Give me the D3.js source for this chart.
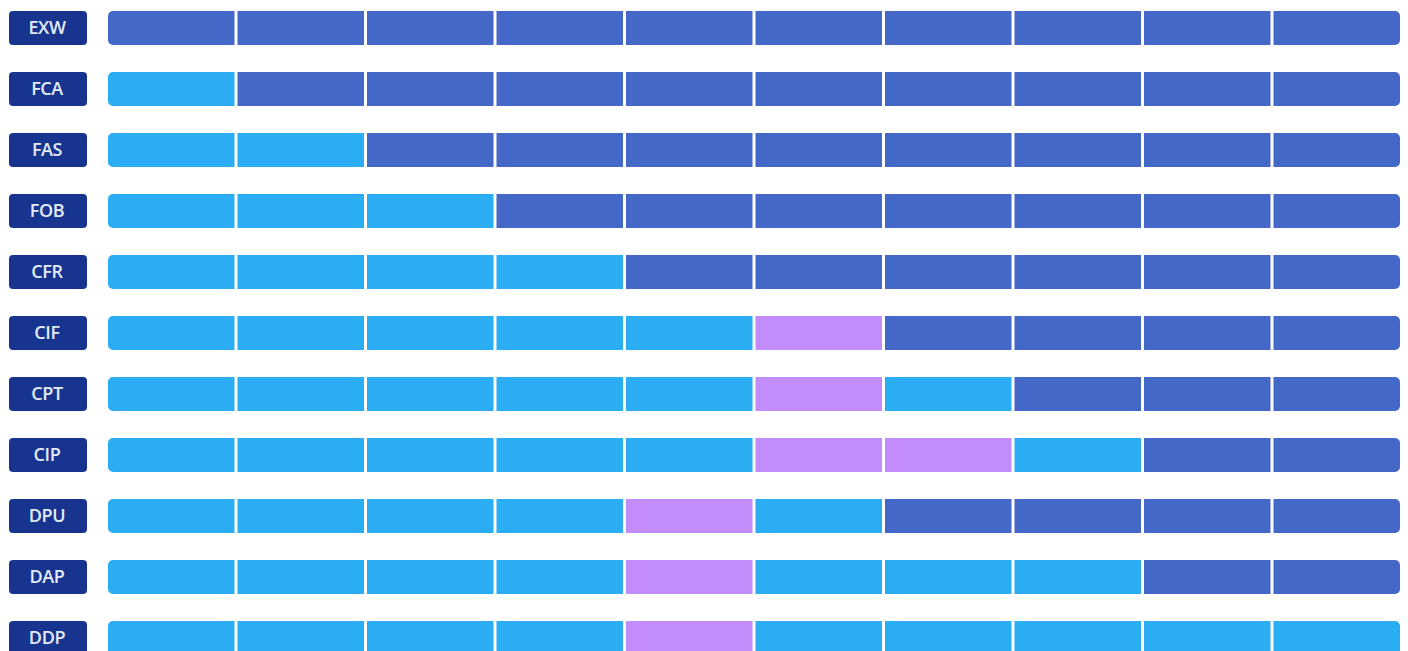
<!DOCTYPE html>
<html>
<head>
<meta charset="utf-8">
<script src="https://cdn.jsdelivr.net/npm/d3@7"></script>
<style>
	body { margin: 0; background: #ffffff; overflow: hidden; }
	svg { display: block; }
</style>
</head>
<body>
<script>
/*
Incoterms responsibility grid: one row per term, one cell per step.
S = seller pays, B = buyer pays, I = insurance step
*/

var terms = ['EXW', 'FCA', 'FAS', 'FOB', 'CFR', 'CIF', 'CPT', 'CIP', 'DPU', 'DAP', 'DDP'];
var steps = [1, 2, 3, 4, 5, 6, 7, 8, 9, 10];

var rowEXW = ['B', 'B', 'B', 'B', 'B', 'B', 'B', 'B', 'B', 'B'];
var rowFCA = ['S', 'B', 'B', 'B', 'B', 'B', 'B', 'B', 'B', 'B'];
var rowFAS = ['S', 'S', 'B', 'B', 'B', 'B', 'B', 'B', 'B', 'B'];
var rowFOB = ['S', 'S', 'S', 'B', 'B', 'B', 'B', 'B', 'B', 'B'];
var rowCFR = ['S', 'S', 'S', 'S', 'B', 'B', 'B', 'B', 'B', 'B'];
var rowCIF = ['S', 'S', 'S', 'S', 'S', 'I', 'B', 'B', 'B', 'B'];
var rowCPT = ['S', 'S', 'S', 'S', 'S', 'I', 'S', 'B', 'B', 'B'];
var rowCIP = ['S', 'S', 'S', 'S', 'S', 'I', 'I', 'S', 'B', 'B'];
var rowDPU = ['S', 'S', 'S', 'S', 'I', 'S', 'B', 'B', 'B', 'B'];
var rowDAP = ['S', 'S', 'S', 'S', 'I', 'S', 'S', 'S', 'B', 'B'];
var rowDDP = ['S', 'S', 'S', 'S', 'I', 'S', 'S', 'S', 'S', 'S'];

var rows = [rowEXW, rowFCA, rowFAS, rowFOB, rowCFR, rowCIF, rowCPT, rowCIP, rowDPU, rowDAP, rowDDP];

var w = 1408,
	h = 651;

var svg = d3.select('body')
	.append('svg')
	.attr('width', w)
	.attr('height', h);

var x = d3.scaleBand()
	.domain(steps)
	.range([108, 1400])
	.paddingInner(0.023)
	.paddingOuter(0);

var y = d3.scaleBand()
	.domain(terms)
	.range([11, 655])
	.paddingInner(0.443)
	.paddingOuter(0);

var color = d3.scaleOrdinal()
	.domain(['B', 'S', 'I'])
	.range(['#4468c8', '#2badf4', '#c28cfb']);

// clip each row so only the outer ends are rounded
var defs = svg.append('defs');
defs.selectAll('clipPath')
	.data(terms).enter()
	.append('clipPath')
	.attr('id', function(d){ return 'clip-' + d; })
	.append('rect')
	.attr('x', x.range()[0])
	.attr('y', function(d){ return y(d); })
	.attr('width', x.range()[1] - x.range()[0])
	.attr('height', y.bandwidth())
	.attr('rx', 5);

var rowG = svg.selectAll('g.row')
	.data(terms).enter()
	.append('g')
	.attr('class', 'row')
	.attr('clip-path', function(d){ return 'url(#clip-' + d + ')'; });

rowG.selectAll('rect')
	.data(function(d, i){
		return rows[i].map(function(v, j){ return {term: d, step: steps[j], v: v}; });
	}).enter()
	.append('rect')
	.attr('x', function(d){ return x(d.step); })
	.attr('y', function(d){ return y(d.term); })
	.attr('width', x.bandwidth())
	.attr('height', y.bandwidth())
	.attr('fill', function(d){ return color(d.v); });

// term badges on the left
var badge = svg.selectAll('g.badge')
	.data(terms).enter()
	.append('g')
	.attr('class', 'badge');

badge.append('rect')
	.attr('x', 9)
	.attr('y', function(d){ return y(d); })
	.attr('width', 78)
	.attr('height', y.bandwidth())
	.attr('rx', 4)
	.attr('fill', '#17358f');

badge.append('text')
	.attr('x', 47)
	.attr('y', function(d){ return y(d) + y.bandwidth() / 2; })
	.attr('dy', '0.36em')
	.attr('text-anchor', 'middle')
	.style('font-family', '"Open Sans", "Noto Sans", sans-serif')
	.style('font-size', '18px')
	.style('font-weight', 600)
	.style('letter-spacing', '-0.4px')
	.style('fill', '#e4ecfa')
	.text(function(d){ return d; });
</script>
</body>
</html>
